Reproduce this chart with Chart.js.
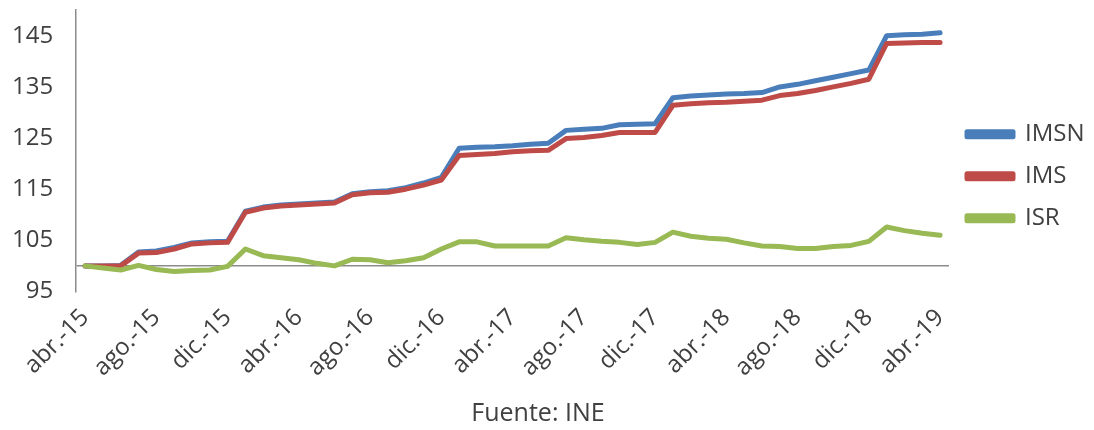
<!DOCTYPE html>
<html lang="es">
<head>
<meta charset="utf-8">
<title>IMSN / IMS / ISR</title>
<script src="https://cdn.jsdelivr.net/npm/chart.js@4/dist/chart.umd.min.js"></script>
<style>
  html, body { margin: 0; padding: 0; background: #fff; }
  #wrap { position: relative; width: 1094px; height: 430px; }
  #fuente {
    position: absolute; left: 0; width: 1076px; top: 394px;
    text-align: center; font: 25px 'Open Sans', sans-serif; color: #404040;
  }
</style>
</head>
<body>
<div id="wrap">
  <canvas id="chart"></canvas>
  <div id="fuente">Fuente: INE</div>
</div>
<script>
// meses abr-15 .. abr-19
const months = [
  'abr.-15', 'may.-15', 'jun.-15', 'jul.-15', 'ago.-15', 'sep.-15', 'oct.-15', 'nov.-15',
  'dic.-15', 'ene.-16', 'feb.-16', 'mar.-16', 'abr.-16', 'may.-16', 'jun.-16', 'jul.-16',
  'ago.-16', 'sep.-16', 'oct.-16', 'nov.-16', 'dic.-16', 'ene.-17', 'feb.-17', 'mar.-17',
  'abr.-17', 'may.-17', 'jun.-17', 'jul.-17', 'ago.-17', 'sep.-17', 'oct.-17', 'nov.-17',
  'dic.-17', 'ene.-18', 'feb.-18', 'mar.-18', 'abr.-18', 'may.-18', 'jun.-18', 'jul.-18',
  'ago.-18', 'sep.-18', 'oct.-18', 'nov.-18', 'dic.-18', 'ene.-19', 'feb.-19', 'mar.-19',
  'abr.-19'
];

const imsn = [
  100.0, 100.0, 100.1, 102.7, 102.9, 103.6, 104.5, 104.7,
  104.8, 110.7, 111.5, 111.9, 112.1, 112.3, 112.5, 114.1,
  114.5, 114.7, 115.3, 116.2, 117.3, 123.0, 123.2, 123.3,
  123.5, 123.8, 124.0, 126.5, 126.7, 126.9, 127.6, 127.7,
  127.8, 132.9, 133.2, 133.4, 133.6, 133.7, 133.9, 135.0,
  135.5, 136.2, 136.9, 137.6, 138.3, 145.0, 145.2, 145.3,
  145.6
];

const ims = [
  100.0, 100.0, 100.0, 102.5, 102.6, 103.3, 104.3, 104.5,
  104.6, 110.5, 111.3, 111.7, 111.9, 112.1, 112.3, 113.9,
  114.3, 114.4, 115.0, 115.8, 116.8, 121.6, 121.8, 122.0,
  122.3, 122.5, 122.6, 124.9, 125.1, 125.5, 126.1, 126.1,
  126.1, 131.4, 131.7, 131.9, 132.0, 132.2, 132.4, 133.3,
  133.7, 134.3, 135.0, 135.7, 136.5, 143.5, 143.6, 143.7,
  143.7
];

const isr = [
  100.0, 99.6, 99.2, 100.1, 99.3, 98.9, 99.1, 99.2,
  99.9, 103.3, 102.0, 101.6, 101.2, 100.5, 100.0, 101.3,
  101.2, 100.6, 101.0, 101.6, 103.3, 104.7, 104.7, 103.9,
  103.9, 103.9, 103.9, 105.5, 105.1, 104.8, 104.6, 104.2,
  104.6, 106.6, 105.8, 105.4, 105.2, 104.5, 103.9, 103.8,
  103.4, 103.4, 103.8, 104.0, 104.8, 107.6, 106.9, 106.4,
  106.0
];

const yTicks = [95, 105, 115, 125, 135, 145];
const baseLine = 100;

const FONT = "'Open Sans', 'DejaVu Sans', sans-serif";
const TEXT = '#404040';
const AXIS = '#8c8c8c';

function lineSet(label, data, color, order) {
  return {
    label,
    data,
    borderColor: color,
    backgroundColor: color,
    borderWidth: 5,
    pointRadius: 0,
    pointHoverRadius: 0,
    tension: 0,
    borderJoinStyle: 'round',
    borderCapStyle: 'round',
    order,
  };
}

new Chart(document.getElementById('chart'), {
  type: 'line',
  data: {
    labels: months,
    datasets: [
      lineSet('IMSN', imsn, '#4a7ebb', 3),
      lineSet('IMS', ims, '#be4b48', 2),
      lineSet('ISR', isr, '#98b954', 1),
    ],
  },
  options: {
    responsive: true,
    maintainAspectRatio: false,
    animation: false,
    layout: { padding: { left: 12, right: 0, top: 0, bottom: 44 } },
    plugins: {
      tooltip: { enabled: false },
      legend: {
        position: 'right',
        fullSize: false,
        reverse: true,
        maxWidth: 145,
        title: { display: true, text: '', font: { size: 1, lineHeight: 1 }, padding: { top: 50, bottom: 0 } },
        labels: {
          font: { family: FONT, size: 24 },
          color: TEXT,
          boxWidth: 46,
          boxHeight: 5,
          padding: 18,
        },
      },
    },
    scales: {
      x: {
        offset: true,
        grid: { display: false },
        border: { display: false },
        afterFit: axis => {
          // Excel lets the first rotated label run past the plot's left edge
          axis.paddingLeft = 0;
          axis.paddingRight = 0;
        },
        ticks: {
          autoSkip: false,
          minRotation: 45,
          maxRotation: 45,
          padding: 4,
          color: TEXT,
          font: { family: FONT, size: 24 },
          callback: (v, i) => (i % 4 === 0 ? months[i] : ''),
        },
      },
      y: {
        min: 95,
        max: 150,
        afterBuildTicks: axis => {
          axis.ticks = [...yTicks, baseLine].sort((a, b) => a - b).map(value => ({ value }));
        },
        border: { display: true, color: AXIS, width: 1.5 },
        grid: {
          drawTicks: true,
          tickLength: 23,
          tickColor: 'rgba(0,0,0,0)',
          lineWidth: 1.5,
          color: ctx => (ctx.tick && ctx.tick.value === baseLine ? AXIS : 'rgba(0,0,0,0)'),
        },
        ticks: {
          padding: 0,
          color: TEXT,
          font: { family: FONT, size: 24, lineHeight: 0.85 },
          callback: v => (v === baseLine ? '' : v),
        },
      },
    },
  },
});
</script>
</body>
</html>
